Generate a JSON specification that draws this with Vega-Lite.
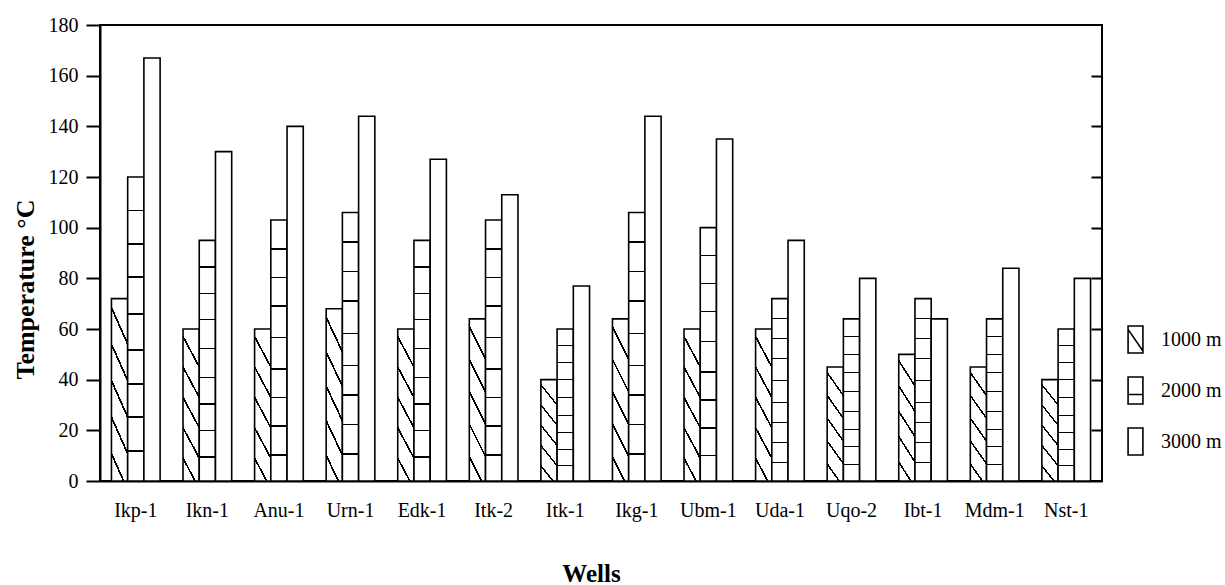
{
  "$schema": "https://vega.github.io/schema/vega-lite/v6.json",
  "width": 1002,
  "height": 456,
  "autosize": {"type": "none"},
  "padding": {"left": 100, "top": 25, "right": 123, "bottom": 104},
  "background": "white",
  "config": {
    "view": {"stroke": "black", "strokeWidth": 2},
    "font": "Liberation Serif",
    "axis": {"labelFont": "Liberation Serif", "titleFont": "Liberation Serif", "labelColor": "black", "titleColor": "black", "domainColor": "black", "tickColor": "black", "grid": false}
  },
  "data": {
    "values": [
      {"well": "Ikp-1", "depth": "1000 m", "temp": 72},
      {"well": "Ikp-1", "depth": "2000 m", "temp": 120},
      {"well": "Ikp-1", "depth": "3000 m", "temp": 167},
      {"well": "Ikn-1", "depth": "1000 m", "temp": 60},
      {"well": "Ikn-1", "depth": "2000 m", "temp": 95},
      {"well": "Ikn-1", "depth": "3000 m", "temp": 130},
      {"well": "Anu-1", "depth": "1000 m", "temp": 60},
      {"well": "Anu-1", "depth": "2000 m", "temp": 103},
      {"well": "Anu-1", "depth": "3000 m", "temp": 140},
      {"well": "Urn-1", "depth": "1000 m", "temp": 68},
      {"well": "Urn-1", "depth": "2000 m", "temp": 106},
      {"well": "Urn-1", "depth": "3000 m", "temp": 144},
      {"well": "Edk-1", "depth": "1000 m", "temp": 60},
      {"well": "Edk-1", "depth": "2000 m", "temp": 95},
      {"well": "Edk-1", "depth": "3000 m", "temp": 127},
      {"well": "Itk-2", "depth": "1000 m", "temp": 64},
      {"well": "Itk-2", "depth": "2000 m", "temp": 103},
      {"well": "Itk-2", "depth": "3000 m", "temp": 113},
      {"well": "Itk-1", "depth": "1000 m", "temp": 40},
      {"well": "Itk-1", "depth": "2000 m", "temp": 60},
      {"well": "Itk-1", "depth": "3000 m", "temp": 77},
      {"well": "Ikg-1", "depth": "1000 m", "temp": 64},
      {"well": "Ikg-1", "depth": "2000 m", "temp": 106},
      {"well": "Ikg-1", "depth": "3000 m", "temp": 144},
      {"well": "Ubm-1", "depth": "1000 m", "temp": 60},
      {"well": "Ubm-1", "depth": "2000 m", "temp": 100},
      {"well": "Ubm-1", "depth": "3000 m", "temp": 135},
      {"well": "Uda-1", "depth": "1000 m", "temp": 60},
      {"well": "Uda-1", "depth": "2000 m", "temp": 72},
      {"well": "Uda-1", "depth": "3000 m", "temp": 95},
      {"well": "Uqo-2", "depth": "1000 m", "temp": 45},
      {"well": "Uqo-2", "depth": "2000 m", "temp": 64},
      {"well": "Uqo-2", "depth": "3000 m", "temp": 80},
      {"well": "Ibt-1", "depth": "1000 m", "temp": 50},
      {"well": "Ibt-1", "depth": "2000 m", "temp": 72},
      {"well": "Ibt-1", "depth": "3000 m", "temp": 64},
      {"well": "Mdm-1", "depth": "1000 m", "temp": 45},
      {"well": "Mdm-1", "depth": "2000 m", "temp": 64},
      {"well": "Mdm-1", "depth": "3000 m", "temp": 84},
      {"well": "Nst-1", "depth": "1000 m", "temp": 40},
      {"well": "Nst-1", "depth": "2000 m", "temp": 60},
      {"well": "Nst-1", "depth": "3000 m", "temp": 80}
    ]
  },
  "encoding": {
    "x": {
      "field": "well", "type": "nominal", "sort": null,
      "scale": {"paddingInner": 0.32, "paddingOuter": 0.16},
      "axis": {
        "title": "Wells", "titleFontSize": 25, "titleFontWeight": "bold",
        "titleX": 491, "titleY": 100, "titleBaseline": "alphabetic", "titleAlign": "center",
        "labelAngle": 0, "labelFontSize": 20, "labelPadding": 19, "ticks": false,
        "domainWidth": 2
      }
    },
    "xOffset": {"field": "depth", "type": "nominal", "scale": {"domain": ["1000 m", "2000 m", "3000 m"]}},
    "y": {
      "field": "temp", "type": "quantitative",
      "scale": {"domain": [0, 180], "nice": false, "zero": true}
    }
  },
  "layer": [
    {
      "encoding": {
        "y": {
          "field": "temp", "type": "quantitative",
          "scale": {"domain": [0, 180], "nice": false},
          "axis": {
            "orient": "left", "values": [0, 20, 40, 60, 80, 100, 120, 140, 160, 180],
            "title": "Temperature °C", "titleFontSize": 26, "titleFontWeight": "bold",
            "titleX": -75, "titleY": 264, "titleAngle": -90, "titleBaseline": "middle", "titleAlign": "center",
            "labelFontSize": 20, "labelPadding": 8, "tickSize": 14, "tickWidth": 2, "domainWidth": 2
          }
        }
      },
      "layer": [
        {
          "transform": [{"filter": "datum.depth === '1000 m'"}],
          "mark": {
            "type": "bar", "stroke": "black", "strokeWidth": 1.6,
            "fill": {
              "gradient": "linear", "x1": 0.2, "y1": 0, "x2": 0, "y2": 1,
              "stops": [
                {"offset": 0, "color": "white"},
                {"offset": 0.0755, "color": "white"}, {"offset": 0.0755, "color": "black"},
                {"offset": 0.0975, "color": "black"}, {"offset": 0.0975, "color": "white"},
                {"offset": 0.268, "color": "white"}, {"offset": 0.268, "color": "black"},
                {"offset": 0.290, "color": "black"}, {"offset": 0.290, "color": "white"},
                {"offset": 0.460, "color": "white"}, {"offset": 0.460, "color": "black"},
                {"offset": 0.482, "color": "black"}, {"offset": 0.482, "color": "white"},
                {"offset": 0.652, "color": "white"}, {"offset": 0.652, "color": "black"},
                {"offset": 0.674, "color": "black"}, {"offset": 0.674, "color": "white"},
                {"offset": 0.845, "color": "white"}, {"offset": 0.845, "color": "black"},
                {"offset": 0.867, "color": "black"}, {"offset": 0.867, "color": "white"},
                {"offset": 1, "color": "white"}
              ]
            }
          }
        },
        {
          "transform": [{"filter": "datum.depth === '2000 m'"}],
          "mark": {
            "type": "bar", "stroke": "black", "strokeWidth": 1.6,
            "fill": {
              "gradient": "linear", "x1": 0, "y1": 0, "x2": 0, "y2": 1,
              "stops": [
                {"offset": 0, "color": "white"},
                {"offset": 0.107, "color": "white"}, {"offset": 0.107, "color": "black"},
                {"offset": 0.113, "color": "black"}, {"offset": 0.113, "color": "white"},
                {"offset": 0.217, "color": "white"}, {"offset": 0.217, "color": "black"},
                {"offset": 0.223, "color": "black"}, {"offset": 0.223, "color": "white"},
                {"offset": 0.327, "color": "white"}, {"offset": 0.327, "color": "black"},
                {"offset": 0.333, "color": "black"}, {"offset": 0.333, "color": "white"},
                {"offset": 0.447, "color": "white"}, {"offset": 0.447, "color": "black"},
                {"offset": 0.453, "color": "black"}, {"offset": 0.453, "color": "white"},
                {"offset": 0.567, "color": "white"}, {"offset": 0.567, "color": "black"},
                {"offset": 0.573, "color": "black"}, {"offset": 0.573, "color": "white"},
                {"offset": 0.677, "color": "white"}, {"offset": 0.677, "color": "black"},
                {"offset": 0.683, "color": "black"}, {"offset": 0.683, "color": "white"},
                {"offset": 0.787, "color": "white"}, {"offset": 0.787, "color": "black"},
                {"offset": 0.793, "color": "black"}, {"offset": 0.793, "color": "white"},
                {"offset": 0.897, "color": "white"}, {"offset": 0.897, "color": "black"},
                {"offset": 0.903, "color": "black"}, {"offset": 0.903, "color": "white"},
                {"offset": 1, "color": "white"}
              ]
            }
          }
        },
        {
          "transform": [{"filter": "datum.depth === '3000 m'"}],
          "mark": {"type": "bar", "stroke": "black", "strokeWidth": 1.6, "fill": "white"}
        }
      ]
    },
    {
      "mark": {"type": "point", "opacity": 0, "filled": false, "stroke": "black"},
      "encoding": {
        "y": {
          "field": "temp", "type": "quantitative",
          "scale": {"domain": [0, 180], "nice": false},
          "axis": {
            "orient": "right", "values": [20, 40, 60, 80, 100, 120, 140, 160],
            "title": null, "labels": false, "domain": false,
            "tickSize": -11, "tickWidth": 2
          }
        },
        "shape": {
          "field": "depth", "type": "nominal",
          "scale": {
            "domain": ["1000 m", "2000 m", "3000 m"],
            "range": [
              "M-0.55,-1H0.55V1H-0.55Z M-0.55,-0.75L0.55,0.85",
              "M-0.55,-1H0.55V1H-0.55Z M-0.55,0.3H0.55",
              "M-0.55,-1H0.55V1H-0.55Z"
            ]
          },
          "legend": {
            "title": null, "orient": "none", "legendX": 1021, "legendY": 300,
            "padding": 0, "rowPadding": 16, "labelOffset": 11,
            "labelFont": "Liberation Serif", "labelFontSize": 20, "labelColor": "black",
            "symbolSize": 729, "symbolStrokeColor": "black", "symbolStrokeWidth": 1.6,
            "symbolFillColor": "white", "symbolOpacity": 1
          }
        }
      }
    }
  ],
  "resolve": {"axis": {"y": "independent"}}
}
